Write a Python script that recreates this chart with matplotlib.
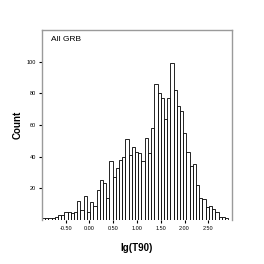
import numpy as np
import matplotlib
matplotlib.use("Agg")
from matplotlib import pyplot as plt

plt.rcParams['font.family'] = ['Liberation Sans', 'DejaVu Sans']

# histogram of lg(T90), counts per bin
counts = [1, 1, 1, 1, 2, 3, 3, 5, 5, 4, 5, 12, 6, 15, 5, 11, 9, 19, 25, 23,
          14, 37, 27, 33, 38, 40, 51, 41, 46, 43, 42, 37, 52, 42, 58, 86, 80,
          77, 64, 77, 99, 82, 72, 69, 55, 43, 34, 35, 22, 14, 13, 8, 9, 7, 5,
          2, 2, 1]
lg_min = -1.0
lg_max = 2.918
edges = np.linspace(lg_min, lg_max, len(counts) + 1)

xticks = [-0.5, 0.0, 0.5, 1.0, 1.5, 2.0, 2.5]
yticks = [20, 40, 60, 80, 100]

fig = plt.figure(figsize=(2.64, 2.64), dpi=100)
ax = fig.add_axes([0.159, 0.1674, 0.72, 0.719])

ax.bar(edges[:-1], counts, width=np.diff(edges), align='edge',
       color='white', edgecolor='black', linewidth=0.6)

ax.set_xlim(-1.0, 3.0)
ax.set_ylim(0, 120)
ax.set_xticks(xticks)
ax.set_xticklabels(['%.2f' % t for t in xticks])
ax.set_yticks(yticks)
ax.tick_params(labelsize=4, length=2.5, width=0.8, pad=2, color='black')

for s in ['left', 'top', 'right']:
    ax.spines[s].set_color('#9a9a9a')
    ax.spines[s].set_linewidth(1.0)
ax.spines['bottom'].set_visible(False)

ax.text(-0.8, 114, 'All GRB', fontsize=6, va='center', ha='left')

ax.set_ylabel('Count', fontsize=7, fontweight='bold')
ax.set_xlabel('lg(T90)', fontsize=7, fontweight='bold')
ax.yaxis.set_label_coords(-0.10, 0.5)
ax.xaxis.set_label_coords(0.5, -0.122)

fig.savefig('out.png', dpi=100)
